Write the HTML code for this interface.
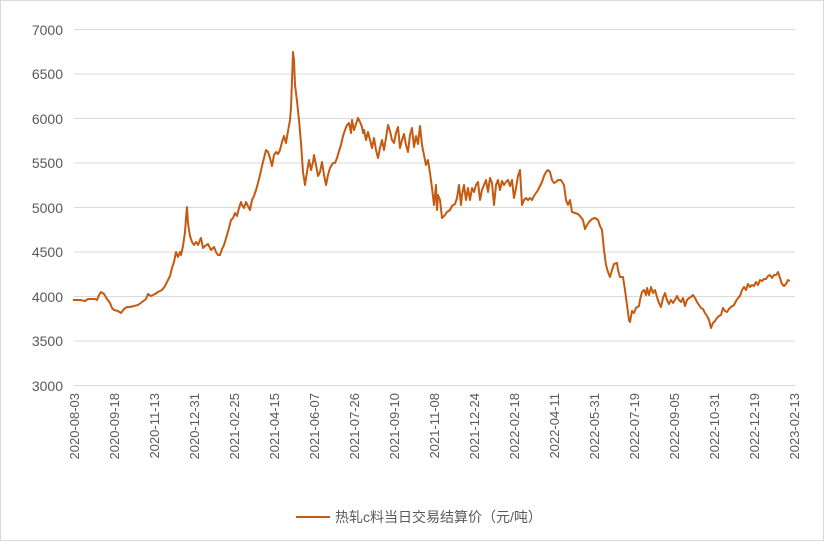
<!DOCTYPE html>
<html><head><meta charset="utf-8"><style>
body{margin:0;background:#fff}
svg text{font-family:"Liberation Sans","Noto Sans CJK SC",sans-serif;fill:#595959}
</style></head><body>
<svg width="825" height="542" viewBox="0 0 825 542">
<rect x="0.5" y="0.5" width="823" height="540" fill="#fff" stroke="#d9d9d9"/>
<g stroke="#d9d9d9" stroke-width="1">
<line x1="74" x2="795" y1="29.5" y2="29.5"/><line x1="74" x2="795" y1="74" y2="74"/>
<line x1="74" x2="795" y1="118.5" y2="118.5"/><line x1="74" x2="795" y1="163" y2="163"/>
<line x1="74" x2="795" y1="207.5" y2="207.5"/><line x1="74" x2="795" y1="252" y2="252"/>
<line x1="74" x2="795" y1="296.5" y2="296.5"/><line x1="74" x2="795" y1="341" y2="341"/>
<line x1="74" x2="795" y1="385.5" y2="385.5"/>
</g>
<g font-size="14" text-anchor="end">
<text x="63" y="35">7000</text><text x="63" y="79">6500</text><text x="63" y="124">6000</text>
<text x="63" y="168">5500</text><text x="63" y="213">5000</text><text x="63" y="257">4500</text>
<text x="63" y="302">4000</text><text x="63" y="346">3500</text><text x="63" y="391">3000</text>
</g>
<g font-size="13" text-anchor="end">
<text transform="translate(79,393) rotate(-90)">2020-08-03</text>
<text transform="translate(119,393) rotate(-90)">2020-09-18</text>
<text transform="translate(159,393) rotate(-90)">2020-11-13</text>
<text transform="translate(199,393) rotate(-90)">2020-12-31</text>
<text transform="translate(239,393) rotate(-90)">2021-02-25</text>
<text transform="translate(279,393) rotate(-90)">2021-04-15</text>
<text transform="translate(319,393) rotate(-90)">2021-06-07</text>
<text transform="translate(359,393) rotate(-90)">2021-07-26</text>
<text transform="translate(399,393) rotate(-90)">2021-09-10</text>
<text transform="translate(439,393) rotate(-90)">2021-11-08</text>
<text transform="translate(479,393) rotate(-90)">2021-12-24</text>
<text transform="translate(519,393) rotate(-90)">2022-02-18</text>
<text transform="translate(559,393) rotate(-90)">2022-04-11</text>
<text transform="translate(599,393) rotate(-90)">2022-05-31</text>
<text transform="translate(639,393) rotate(-90)">2022-07-19</text>
<text transform="translate(679,393) rotate(-90)">2022-09-05</text>
<text transform="translate(719,393) rotate(-90)">2022-10-31</text>
<text transform="translate(759,393) rotate(-90)">2022-12-19</text>
<text transform="translate(799,393) rotate(-90)">2023-02-13</text>
</g>
<polyline fill="none" stroke="#c55a11" stroke-width="2" stroke-linejoin="round" points="73,300 80,300 85,301 88,299 95,299 97,300 99,295 101,292 104,294 107,299 110,303 112,308 114,310 118,311 121,313 124,309 127,307 130,307 134,306 138,305 142,302 146,299 148,294 151,296 155,294 158,292 162,290 165,286 168,280 170,276 172,268 174,262 176,252 178,257 180,252 181,255 183,246 185,232 186,218 187,207 188,223 189,230 190,236 192,242 194,245 196,242 198,245 200,240 201,238 203,248 205,246 208,244 211,250 214,247 216,252 218,255 220,255 222,249 224,245 227,235 229,228 231,220 233,218 235,213 237,216 239,208 241,202 242,205 244,208 246,202 248,206 250,210 252,200 254,196 256,190 258,183 260,175 262,166 264,158 266,150 268,152 270,158 272,166 274,155 276,152 278,154 280,150 282,142 284,136 286,143 288,131 290,120 291,108 292,80 293,52 294,60 295,85 297,101 299,120 301,143 303,172 305,185 307,172 309,160 311,170 313,162 314,155 316,165 318,176 320,172 322,162 324,175 326,185 328,175 330,168 333,163 335,163 337,158 339,151 341,145 343,136 345,130 347,125 349,123 351,133 352,120 354,130 356,124 358,118 360,122 362,127 363,133 364,130 366,140 368,132 370,140 372,148 374,138 376,150 378,158 380,148 382,140 384,150 386,138 388,125 390,131 392,140 394,143 396,133 398,127 400,148 402,140 404,134 406,145 408,152 410,135 412,128 414,147 416,136 418,144 420,126 422,145 424,155 426,165 428,160 430,173 432,188 434,205 436,185 437,210 438,195 440,200 442,218 445,215 447,212 450,210 452,206 455,204 457,198 459,185 461,205 462,195 464,185 466,200 468,188 470,200 472,188 474,192 476,185 478,182 480,200 482,190 484,185 486,180 488,192 490,178 492,183 494,205 496,185 498,180 500,190 502,181 504,185 506,182 508,180 510,186 512,180 514,198 516,188 518,176 520,170 522,205 524,200 526,198 528,200 530,198 532,200 534,196 536,193 538,190 540,186 542,182 544,176 546,172 548,170 550,172 552,180 554,183 556,182 558,180 561,180 564,185 566,200 568,205 570,200 572,212 575,213 578,214 580,216 583,220 585,229 587,225 589,222 592,219 595,218 598,220 600,226 602,230 604,250 606,265 608,272 610,277 612,270 614,264 617,263 618,270 620,277 623,277 625,290 627,305 629,320 630,322 632,311 634,313 636,308 639,306 640,300 642,292 644,290 646,295 647,288 649,295 651,287 653,293 655,290 657,297 659,303 661,307 663,298 665,293 667,300 669,304 671,300 673,303 675,300 677,296 679,300 681,302 683,298 685,306 687,300 689,298 691,297 693,295 695,298 697,302 699,305 701,308 703,309 705,313 707,316 709,320 711,328 713,323 715,321 717,318 719,316 721,315 723,308 725,311 727,312 729,309 731,307 734,305 736,301 738,298 740,296 742,290 744,287 746,290 748,284 750,287 752,285 754,286 756,282 758,285 760,280 762,281 764,279 766,279 768,276 770,275 772,278 774,275 776,275 778,272 780,278 782,284 784,286 786,284 788,280 790,281"/>
<line x1="296" x2="330" y1="517" y2="517" stroke="#c55a11" stroke-width="2"/>
<text x="335" y="522" font-size="14">热轧c料当日交易结算价（元/吨）</text>
</svg>
</body></html>
